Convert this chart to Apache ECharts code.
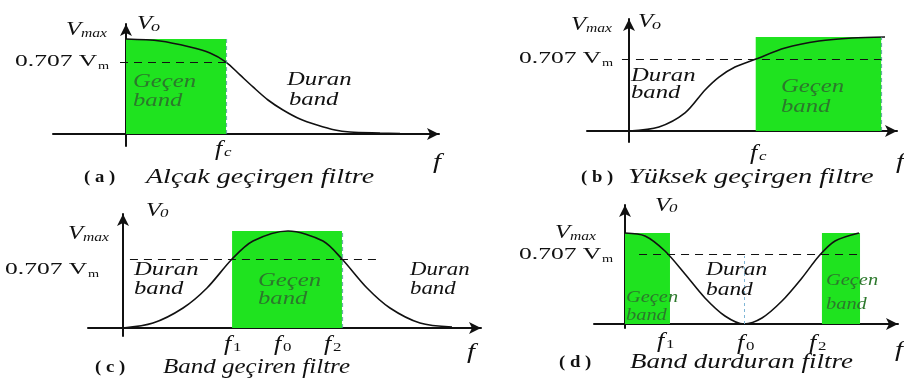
<!DOCTYPE html>
<html>
<head>
<meta charset="utf-8">
<script src="https://cdn.jsdelivr.net/npm/echarts@6/dist/echarts.min.js"></script>
<style>
  html, body { margin: 0; padding: 0; background: #fff; }
  #chart { width: 904px; height: 382px; }
</style>
</head>
<body>
<div id="chart"></div>
<script>
// Normalised frequency (f / fc or f / f0) and output level (V / Vmax)
const lowPassF  = [0, 0.34, 0.64, 0.84, 1.0, 1.14, 1.27, 1.42, 1.57, 1.74, 1.91, 2.09, 2.24, 2.54, 2.74];
const lowPassV  = [0.933, 0.914, 0.855, 0.796, 0.707, 0.58, 0.462, 0.334, 0.236, 0.147, 0.088, 0.039, 0.02, 0.01, 0.005];

const highPassF = [0, 0.234, 0.4375, 0.594, 0.703, 0.828, 0.992, 1.219, 1.484, 1.742, 2.0];
const highPassV = [0, 0.039, 0.177, 0.403, 0.53, 0.629, 0.707, 0.815, 0.884, 0.914, 0.923];

const bandPassF = [0, 0.182, 0.364, 0.509, 0.661, 0.788, 1.0, 1.212, 1.327, 1.479, 1.618, 1.8, 1.994];
const bandPassV = [0, 0.051, 0.205, 0.41, 0.707, 0.891, 0.994, 0.891, 0.707, 0.41, 0.205, 0.051, 0.01];

const bandStopF = [0, 0.168, 0.336, 0.504, 0.672, 0.84, 1.0, 1.151, 1.319, 1.487, 1.63, 1.765, 1.966];
const bandStopV = [0.919, 0.889, 0.737, 0.505, 0.263, 0.081, 0, 0.061, 0.232, 0.465, 0.687, 0.838, 0.919];

// Half-power level (0.707 Vm) and the pass bands [start, end] on each frequency axis
const halfPower     = 0.707;
const lowPassBands  = [[0, 1.0]];
const highPassBands = [[0.99, 1.97]];
const bandPassBands = [[0.661, 1.327]];
const bandStopBands = [[0, 0.378], [1.655, 1.975]];

// Extent of each dashed half-power line along the frequency axis
const lowPassDash  = [-0.06, 1.0];
const highPassDash = [-0.055, 1.98];
const bandPassDash = [0.042, 1.54];
const bandStopDash = [0.118, 1.99];

// Centre frequency marker of the band-stop response: [f0, top of the marker]
const bandStopCentre = [1.0, 0.687];

const GREEN = '#1fe31f';
const INK = '#111';
const SERIF = 'Liberation Serif';

// Pixel layout of every panel: plot box, where the origin sits and the size of one unit
const panels = [
  { left: 53,  right: 439, top: 24,  bottom: 146, ox: 126, oy: 134, xu: 100, yu: 101.8,
    F: lowPassF,  V: lowPassV,  bands: lowPassBands,  dash: lowPassDash,  edge: [1.0] },
  { left: 587, right: 897, top: 19,  bottom: 142, ox: 629, oy: 131, xu: 128, yu: 101.8,
    F: highPassF, V: highPassV, bands: highPassBands, dash: highPassDash, edge: [1.97] },
  { left: 88,  right: 481, top: 214, bottom: 336, ox: 123, oy: 328, xu: 165, yu: 97.6,
    F: bandPassF, V: bandPassV, bands: bandPassBands, dash: bandPassDash, edge: [1.327] },
  { left: 594, right: 898, top: 205, bottom: 328, ox: 625, oy: 324, xu: 119, yu: 99,
    F: bandStopF, V: bandStopV, bands: bandStopBands, dash: bandStopDash, edge: [], centre: bandStopCentre }
];

const grids = [], xAxes = [], yAxes = [], series = [];

const axisLine = {
  show: true,
  onZero: true,
  symbol: ['none', 'arrow'],
  symbolSize: [9, 12],
  lineStyle: { color: INK, width: 2 }
};

panels.forEach((p, i) => {
  grids.push({ left: p.left, top: p.top, width: p.right - p.left, height: p.bottom - p.top });
  xAxes.push({
    type: 'value', gridIndex: i,
    min: (p.left - p.ox) / p.xu, max: (p.right - p.ox) / p.xu,
    axisLine: axisLine, axisTick: { show: false }, axisLabel: { show: false }, splitLine: { show: false }
  });
  yAxes.push({
    type: 'value', gridIndex: i,
    min: (p.oy - p.bottom) / p.yu, max: (p.oy - p.top) / p.yu,
    axisLine: axisLine, axisTick: { show: false }, axisLabel: { show: false }, splitLine: { show: false }
  });

  const top = Math.max(...p.V);
  const lines = [
    [{ coord: [p.dash[0], halfPower] }, { coord: [p.dash[1], halfPower] }]
  ];
  p.edge.forEach(e => {
    lines.push([
      { coord: [e, 0], lineStyle: { color: 'rgba(70,150,140,0.75)', type: [4, 3], width: 1.2 } },
      { coord: [e, top] }
    ]);
  });
  if (p.centre) {
    lines.push([
      { coord: [p.centre[0], 0], lineStyle: { color: '#7fb6d6', type: [3, 3], width: 1 } },
      { coord: [p.centre[0], p.centre[1]] }
    ]);
  }

  series.push({
    type: 'line',
    xAxisIndex: i, yAxisIndex: i,
    data: p.F.map((f, j) => [f, p.V[j]]),
    smooth: 0.3,
    showSymbol: false,
    silent: true,
    z: 4,
    lineStyle: { color: INK, width: 1.6 },
    markArea: {
      silent: true,
      itemStyle: { color: GREEN },
      data: p.bands.map(b => [{ coord: [b[0], 0] }, { coord: [b[1], top] }])
    },
    markLine: {
      silent: true,
      symbol: ['none', 'none'],
      label: { show: false },
      lineStyle: { color: INK, type: [8, 6], width: 1.2 },
      data: lines
    }
  });
});

// Annotation text placed at pixel anchors (left edge, vertical middle)
function T(text, x, y, size, italic, color, sx, bold) {
  return {
    type: 'text', x: x, y: y, scaleX: sx || 1.3, scaleY: 1, z: 10, silent: true,
    style: {
      text: text,
      fontFamily: SERIF,
      fontSize: size,
      fontStyle: italic ? 'italic' : 'normal',
      fontWeight: bold ? 'bold' : 'normal',
      fill: color || INK,
      align: 'left',
      verticalAlign: 'middle'
    }
  };
}
const G = '#2c782c';
const K = INK;

const texts = [
  // (a) low-pass
  T('V', 66, 30, 19, true), T('max', 81, 34, 12, true),
  T('V', 137, 24, 19, true), T('o', 151, 27, 14, true),
  T('0.707 V', 15, 62, 17, false, K, 1.5), T('m', 98, 66, 11, false),
  T('Geçen', 133, 82, 19, true, G), T('band', 133, 101, 19, true, G),
  T('Duran', 287, 80, 19, true), T('band', 289, 100, 19, true),
  T('f', 215, 150, 20, true), T('c', 224, 153, 13, true),
  T('f', 433, 162, 22, true),
  T('( a )', 84, 178, 17, false, K, 1.1, true),
  T('Alçak geçirgen filtre', 146, 178, 20, true, K, 1.4),

  // (b) high-pass
  T('V', 571, 25, 19, true), T('max', 586, 29, 12, true),
  T('V', 638, 22, 19, true), T('o', 652, 25, 14, true),
  T('0.707 V', 519, 59, 17, false, K, 1.5), T('m', 602, 63, 11, false),
  T('Duran', 631, 76, 19, true), T('band', 631, 93, 19, true),
  T('Geçen', 781, 87, 19, true, G), T('band', 781, 107, 19, true, G),
  T('f', 750, 154, 20, true), T('c', 759, 157, 13, true),
  T('f', 896, 162, 22, true),
  T('( b )', 581, 178, 17, false, K, 1.1, true),
  T('Yüksek geçirgen filtre', 628, 178, 20, true, K, 1.42),

  // (c) band-pass
  T('V', 146, 211, 19, true), T('0', 160, 214, 13, true),
  T('V', 68, 234, 19, true), T('max', 83, 238, 12, true),
  T('0.707 V', 5, 270, 17, false, K, 1.5), T('m', 88, 274, 11, false),
  T('Duran', 134, 270, 19, true), T('band', 134, 289, 19, true),
  T('Geçen', 258, 281, 19, true, G), T('band', 258, 299, 19, true, G),
  T('Duran', 410, 270, 19, true, K, 1.2), T('band', 410, 289, 19, true, K, 1.2),
  T('f', 224, 345, 20, true), T('1', 233, 348, 13, false),
  T('f', 274, 345, 20, true), T('0', 283, 348, 13, false),
  T('f', 324, 345, 20, true), T('2', 333, 348, 13, false),
  T('f', 467, 352, 22, true),
  T('( c )', 95, 368, 17, false, K, 1.1, true),
  T('Band geçiren filtre', 163, 368, 20, true, K, 1.25),

  // (d) band-stop
  T('V', 655, 206, 19, true), T('0', 669, 209, 13, true),
  T('V', 555, 233, 19, true), T('max', 570, 237, 12, true),
  T('0.707 V', 519, 255, 17, false, K, 1.5), T('m', 602, 259, 11, false),
  T('Duran', 706, 270, 18, true), T('band', 706, 290, 18, true),
  T('Geçen', 626, 298, 17, true, G, 1.2), T('band', 626, 316, 17, true, G, 1.2),
  T('Geçen', 826, 281, 17, true, G, 1.2), T('band', 826, 305, 17, true, G, 1.2),
  T('f', 657, 342, 20, true), T('1', 666, 345, 13, false),
  T('f', 737, 344, 20, true), T('0', 746, 347, 13, false),
  T('f', 809, 344, 20, true), T('2', 818, 347, 13, false),
  T('f', 895, 350, 22, true),
  T('( d )', 559, 363, 17, false, K, 1.1, true),
  T('Band durduran filtre', 630, 363, 20, true, K, 1.35)
];

const chart = echarts.init(document.getElementById('chart'), null, { renderer: 'canvas' });
chart.setOption({
  animation: false,
  backgroundColor: '#fff',
  grid: grids,
  xAxis: xAxes,
  yAxis: yAxes,
  series: series,
  graphic: texts
});
</script>
</body>
</html>
